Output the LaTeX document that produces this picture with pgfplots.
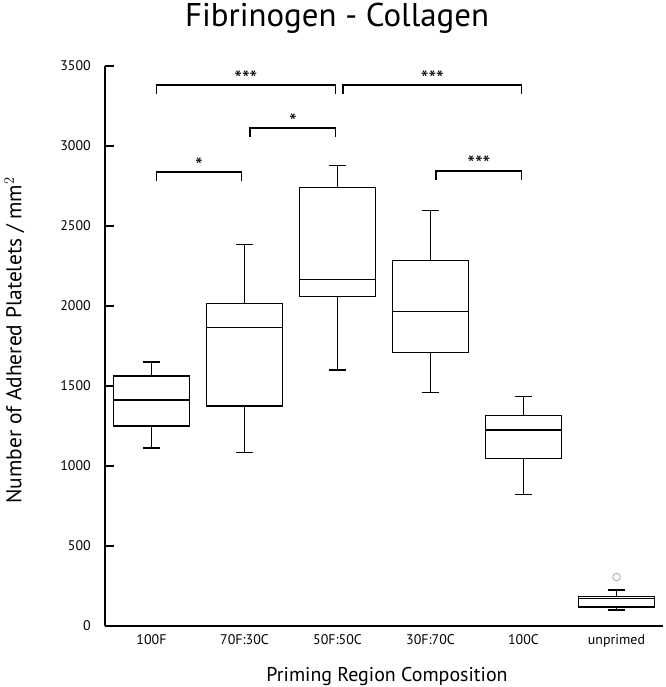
\documentclass[border=0pt]{standalone}
\usepackage{pgfplots}
\pgfplotsset{compat=1.18}
\usepgfplotslibrary{statistics}
\usepackage{fontspec}
\setmainfont{PT Sans}

% significance bracket: x1, x2, height, label
\newcommand{\sigbar}[4]{%
  \draw[line width=1.25pt] (axis cs:#1,#3-55) -- (axis cs:#1,#3) -- (axis cs:#2,#3) -- (axis cs:#2,#3-55);
  \node[anchor=base, inner sep=0pt, yshift=-1bp, font=\fontsize{22}{22}\selectfont] at (axis cs:{(#1+#2)/2},#3) {#4};
}

\begin{document}
\begin{tikzpicture}
\begin{axis}[
  name=ax,
  scale only axis,
  width=558bp, height=560bp,
  xmin=-0.5, xmax=5.5,
  ymin=0, ymax=3500,
  axis x line=bottom, axis y line=left,
  axis line style={-, line width=1.4pt},
  tick align=inside,
  tick style={black, line width=1.4pt},
  major tick length=9bp,
  xtick={0,...,5},
  xticklabels={100F,70F:30C,50F:50C,30F:70C,100C,unprimed},
  x tick style={draw=none},
  minor xtick={0.5,1.5,2.5,3.5,4.5,5.5},
  minor x tick style={black, line width=1.4pt},
  minor tick length=9bp,
  ytick={0,500,...,3500},
  /pgf/number format/assume math mode=true,
  /pgf/number format/set thousands separator={},
  ticklabel style={font=\fontsize{14}{15}\selectfont},
  yticklabel style={inner sep=0pt, anchor=east, xshift=-14bp},
  xticklabel style={inner sep=0pt, anchor=north, yshift=-8bp},
  every axis title shift=0pt,
  title={Fibrinogen - Collagen},
  title style={font=\fontsize{33}{36}\selectfont, anchor=base, at={(rel axis cs:0,1)}, xshift=232bp, yshift=39bp},
  xlabel={Priming Region Composition},
  ylabel={Number of Adhered Platelets / mm$^2$},
  every axis x label/.style={font=\fontsize{20}{22}\selectfont, anchor=base, at={(rel axis cs:0,0)}, xshift=282bp, yshift=-55bp},
  every axis y label/.style={font=\fontsize{21.5}{23}\selectfont, anchor=center, rotate=90, at={(axis description cs:-0.162,0.51)}},
  clip=false,
  boxplot/draw direction=y,
  boxplot/box extend=0.82,
  boxplot/whisker extend=0.19,
]
\addplot+[black, line width=1.25pt, solid, mark=none, boxplot prepared={draw position=0,
  lower whisker=1112, lower quartile=1250, median=1412, upper quartile=1562, upper whisker=1650}]
  coordinates {};
\addplot+[black, line width=1.25pt, solid, mark=none, boxplot prepared={draw position=1,
  lower whisker=1085, lower quartile=1375, median=1865, upper quartile=2015, upper whisker=2385}]
  coordinates {};
\addplot+[black, line width=1.25pt, solid, mark=none, boxplot prepared={draw position=2,
  lower whisker=1600, lower quartile=2060, median=2165, upper quartile=2740, upper whisker=2880}]
  coordinates {};
\addplot+[black, line width=1.25pt, solid, mark=none, boxplot prepared={draw position=3,
  lower whisker=1460, lower quartile=1710, median=1965, upper quartile=2285, upper whisker=2595}]
  coordinates {};
\addplot+[black, line width=1.25pt, solid, mark=none, boxplot prepared={draw position=4,
  lower whisker=820, lower quartile=1045, median=1225, upper quartile=1315, upper whisker=1435}]
  coordinates {};
\addplot+[black, line width=1.25pt, solid, mark=o, mark size=3.8bp,
  mark options={draw=gray!70, line width=0.8pt, fill=none},
  boxplot prepared={draw position=5,
  lower whisker=100, lower quartile=118, median=172, upper quartile=183, upper whisker=225}]
  table[row sep=\\, y index=0] {306\\};

\sigbar{0.05}{1.98}{3381}{***}
\sigbar{2.06}{3.98}{3381}{***}
\sigbar{1.06}{1.98}{3112}{*}
\sigbar{0.05}{0.97}{2837}{*}
\sigbar{3.06}{3.98}{2844}{***}
\end{axis}
\pgfresetboundingbox
\path (ax.south west) ++(-105bp,-61bp) rectangle ++(666bp,687bp);
\end{tikzpicture}
\end{document}
